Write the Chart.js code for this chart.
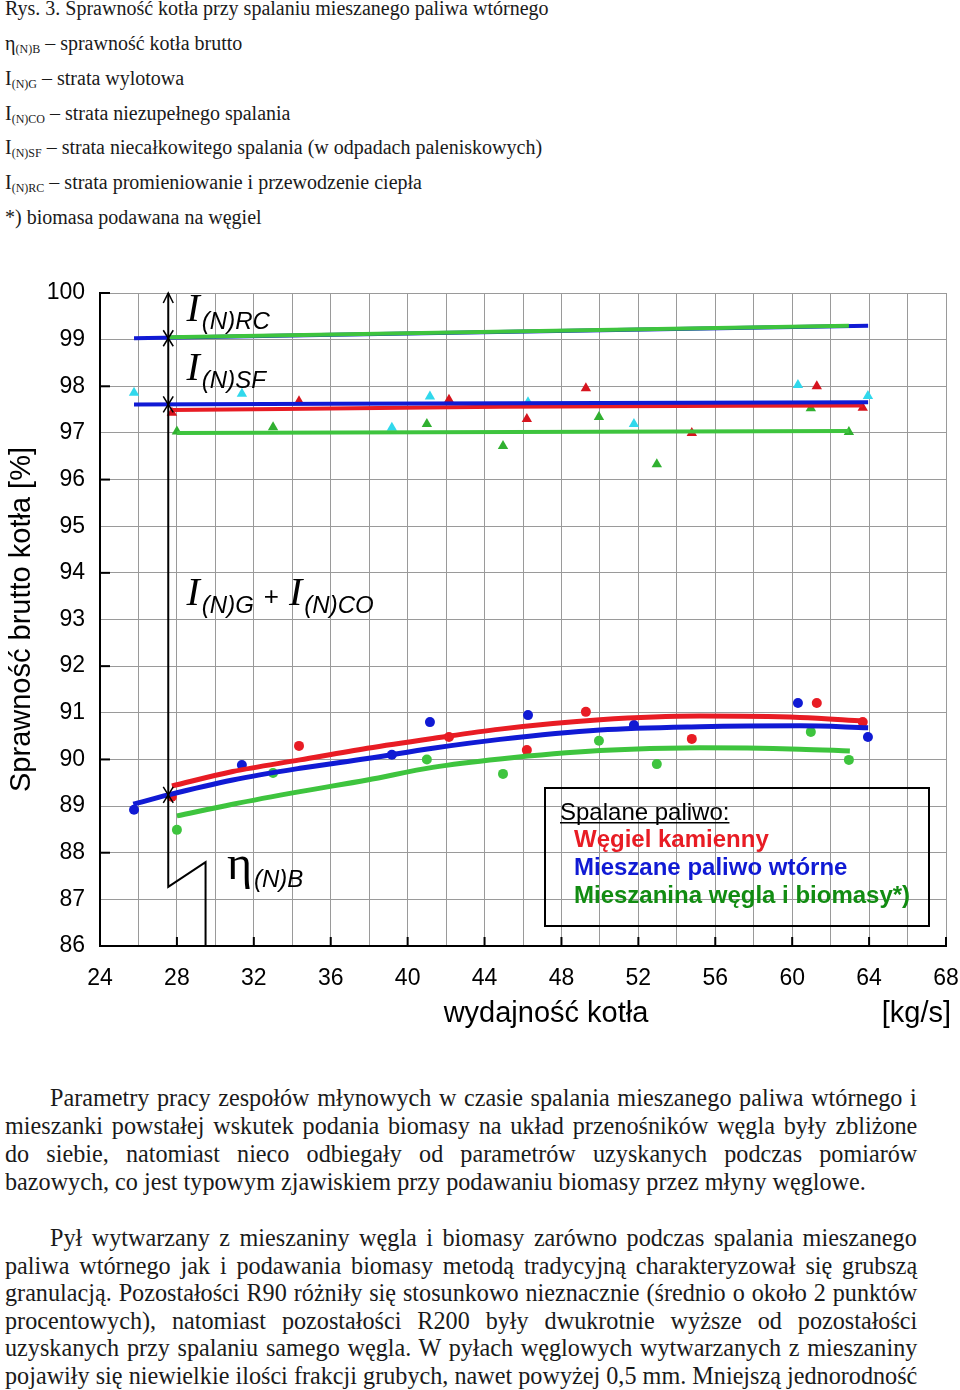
<!DOCTYPE html>
<html lang="pl">
<head>
<meta charset="utf-8">
<title>Rys. 3. Sprawność kotła</title>
<script src="https://cdn.jsdelivr.net/npm/chart.js@4.4.1/dist/chart.umd.min.js"></script>
<style>
    body { margin: 0; width: 960px; height: 1390px; position: relative; overflow: hidden; background: #fff; }
    .cap { position: absolute; left: 5px; font-family: "Liberation Serif", "Times New Roman", serif; font-size: 20px; line-height: 22px; color: #1a1a1a; white-space: nowrap; }
    .cap sub { font-size: 12px; vertical-align: -3px; line-height: 0; }
    .txt { position: absolute; font-family: "Liberation Serif", "Times New Roman", serif; font-size: 26px; line-height: 28px; color: #1a1a1a; transform-origin: 0 0; transform: scaleX(0.93); text-align: justify; text-align-last: justify; white-space: nowrap; }
    .txt.last { text-align-last: left; }
    #wrap { position: absolute; left: 0; top: 260px; width: 960px; height: 800px; }
</style>
</head>
<body>

<div class="cap" style="top:-3px">Rys. 3. Sprawność kotła przy spalaniu mieszanego paliwa wtórnego</div>
<div class="cap" style="top:32px">η<sub>(N)B</sub> – sprawność kotła brutto</div>
<div class="cap" style="top:67px">I<sub>(N)G</sub> – strata wylotowa</div>
<div class="cap" style="top:102px">I<sub>(N)CO</sub> – strata niezupełnego spalania</div>
<div class="cap" style="top:136px">I<sub>(N)SF</sub> – strata niecałkowitego spalania (w odpadach paleniskowych)</div>
<div class="cap" style="top:171px">I<sub>(N)RC</sub> – strata promieniowanie i przewodzenie ciepła</div>
<div class="cap" style="top:206px">*) biomasa podawana na węgiel</div>

<div id="wrap"><canvas id="effChart" width="960" height="800"></canvas></div>

<div class="txt" style="top:1084px; left:50px; width:932px">Parametry pracy zespołów młynowych w czasie spalania mieszanego paliwa wtórnego i</div>
<div class="txt" style="top:1112px; left:5px; width:981px">mieszanki powstałej wskutek podania biomasy na układ przenośników węgla były zbliżone</div>
<div class="txt" style="top:1140px; left:5px; width:981px">do siebie, natomiast nieco odbiegały od parametrów uzyskanych podczas pomiarów</div>
<div class="txt last" style="top:1168px; left:5px; width:981px">bazowych, co jest typowym zjawiskiem przy podawaniu biomasy przez młyny węglowe.</div>
<div class="txt" style="top:1224px; left:50px; width:932px">Pył wytwarzany z mieszaniny węgla i biomasy zarówno podczas spalania mieszanego</div>
<div class="txt" style="top:1252px; left:5px; width:981px">paliwa wtórnego jak i podawania biomasy metodą tradycyjną charakteryzował się grubszą</div>
<div class="txt" style="top:1279px; left:5px; width:981px">granulacją. Pozostałości R90 różniły się stosunkowo nieznacznie (średnio o około 2 punktów</div>
<div class="txt" style="top:1307px; left:5px; width:981px">procentowych), natomiast pozostałości R200 były dwukrotnie wyższe od pozostałości</div>
<div class="txt" style="top:1334px; left:5px; width:981px">uzyskanych przy spalaniu samego węgla. W pyłach węglowych wytwarzanych z mieszaniny</div>
<div class="txt" style="top:1362px; left:5px; width:981px">pojawiły się niewielkie ilości frakcji grubych, nawet powyżej 0,5 mm. Mniejszą jednorodność</div>

<script>
// axis ticks
const xTickLabels = [24, 28, 32, 36, 40, 44, 48, 52, 56, 60, 64, 68];
const yMajorTicks = [86, 88, 90, 92, 94, 96, 98, 100];

// Węgiel kamienny (coal)
const coalX = [27.74, 34.35, 42.15, 46.2, 49.27, 54.78, 61.28, 63.67];
const coalEff = [89.2, 90.29, 90.48, 90.2, 91.02, 90.44, 91.21, 90.8];
const coalLoss = [97.43, 97.68, 97.71, 97.3, 97.96, 97.0, 98.0, 97.54];

// Mieszane paliwo wtórne (mixed secondary fuel)
const mixX = [25.77, 31.38, 39.18, 41.16, 46.26, 51.77, 60.3, 63.94];
const mixEff = [88.92, 89.88, 90.1, 90.8, 90.95, 90.74, 91.21, 90.48];
const mixLoss = [97.86, 97.84, 97.11, 97.78, 97.66, 97.19, 98.03, 97.79];

// Mieszanina węgla i biomasy (coal + biomass)
const bioX = [28.0, 33.0, 41.0, 44.96, 49.95, 52.96, 60.97, 62.95];
const bioEff = [88.49, 89.71, 90.0, 89.69, 90.4, 89.9, 90.59, 89.99];
const bioLoss = [97.03, 97.12, 97.19, 96.72, 97.34, 96.33, 97.53, 97.02];

// trend curves of efficiency
const coalFitX = [27.74, 30.9, 34.4, 37.9, 41.3, 44.8, 50, 55.2, 60.4, 63.7];
const coalFitY = [89.43, 89.74, 89.99, 90.24, 90.45, 90.65, 90.85, 90.93, 90.9, 90.82];
const mixFitX = [25.73, 27.55, 30.9, 34.4, 37.9, 41.3, 44.8, 50, 55.2, 60.4, 63.95];
const mixFitY = [89.04, 89.24, 89.56, 89.81, 90.02, 90.24, 90.43, 90.63, 90.7, 90.72, 90.68];
const bioFitX = [28, 30.9, 34.4, 37.9, 41.3, 44.8, 50, 55.2, 60.4, 63];
const bioFitY = [88.79, 89.04, 89.31, 89.56, 89.83, 90.01, 90.19, 90.25, 90.22, 90.18];

// upper loss lines: I(N)RC and I(N)SF
const rcMixX = [25.77, 63.95];
const rcMixY = [99.03, 99.3];
const rcBioX = [27.55, 62.95];
const rcBioY = [99.05, 99.3];
const sfMixX = [25.77, 63.95];
const sfMixY = [97.61, 97.66];
const sfCoalX = [27.74, 44.8, 63.67];
const sfCoalY = [97.49, 97.56, 97.59];
const sfBioX = [28, 62.95];
const sfBioY = [97.0, 97.04];

// marker line of the loss breakdown
const markX = 27.55;
const markBreakX = 29.49;
const markBreakY = [87.27, 87.8];
const markArrowY = [99.03, 97.61, 89.24];

const RED = 'rgb(232, 28, 36)';
const BLUE = 'rgb(16, 26, 212)';
const GREEN = 'rgb(62, 196, 62)';
const CYAN = 'rgb(48, 216, 236)';
const GREEN_TRI = 'rgb(48, 176, 48)';
const FONT = '"Liberation Sans", Arial, sans-serif';

function pts(xs, ys) {
    return xs.map((x, i) => ({ x: x, y: ys[i] }));
}

function lineSet(xs, ys, color, width, order) {
    return {
        data: pts(xs, ys),
        showLine: true,
        borderColor: color,
        borderWidth: width,
        pointRadius: 0,
        tension: 0.4,
        cubicInterpolationMode: 'monotone',
        borderCapStyle: 'butt',
        order: order
    };
}

function pointSet(xs, ys, color, style, radius) {
    return {
        data: pts(xs, ys),
        showLine: false,
        pointStyle: style,
        pointRadius: radius,
        backgroundColor: color,
        borderColor: color,
        borderWidth: 0,
        order: 10
    };
}

/**
 * Annotations: marker line, arrows, loss labels, legend box, x title
 */
const decorPlugin = {
    id: 'decor',
    afterDraw(chart) {
        const ctx = chart.ctx;
        const xs = chart.scales.x;
        const ys = chart.scales.y;
        const px = v => xs.getPixelForValue(v);
        const py = v => ys.getPixelForValue(v);

        ctx.save();
        ctx.strokeStyle = '#000';
        ctx.lineWidth = 2;

        // inner tick marks
        xTickLabels.forEach(v => {
            ctx.beginPath();
            ctx.moveTo(px(v), ys.bottom);
            ctx.lineTo(px(v), ys.bottom - 9);
            ctx.stroke();
        });
        yMajorTicks.forEach(v => {
            ctx.beginPath();
            ctx.moveTo(xs.left, py(v));
            ctx.lineTo(xs.left + 10, py(v));
            ctx.stroke();
        });

        // marker line with break
        const mx = px(markX);
        ctx.beginPath();
        ctx.moveTo(mx, py(100));
        ctx.lineTo(mx, py(markBreakY[0]));
        ctx.lineTo(px(markBreakX), py(markBreakY[1]));
        ctx.lineTo(px(markBreakX), ys.bottom);
        ctx.stroke();

        ctx.lineWidth = 1.5;
        ctx.beginPath();
        ctx.moveTo(mx - 5, py(100) + 10);
        ctx.lineTo(mx, py(100));
        ctx.lineTo(mx + 5, py(100) + 10);
        ctx.stroke();
        markArrowY.forEach(v => {
            const yy = py(v);
            ctx.beginPath();
            ctx.moveTo(mx - 5, yy - 8);
            ctx.lineTo(mx, yy);
            ctx.lineTo(mx + 5, yy - 8);
            ctx.moveTo(mx - 5, yy + 8);
            ctx.lineTo(mx, yy);
            ctx.lineTo(mx + 5, yy + 8);
            ctx.stroke();
        });

        // loss labels
        ctx.fillStyle = '#000';
        ctx.textBaseline = 'alphabetic';
        ctx.textAlign = 'left';
        const bigI = 'italic 40px "Liberation Serif", serif';
        const sub = 'italic 24px ' + FONT;
        function lossLabel(x, y, parts) {
            let cx = x;
            parts.forEach(p => {
                ctx.font = p.font;
                ctx.fillText(p.text, cx, y + (p.dy || 0));
                cx += ctx.measureText(p.text).width + (p.gap || 0);
            });
        }
        lossLabel(px(28.5), py(99.4), [
            { text: 'I', font: bigI, gap: 2 },
            { text: '(N)RC', font: sub, dy: 8 }
        ]);
        lossLabel(px(28.5), py(98.13), [
            { text: 'I', font: bigI, gap: 2 },
            { text: '(N)SF', font: sub, dy: 8 }
        ]);
        lossLabel(px(28.5), py(93.31), [
            { text: 'I', font: bigI, gap: 2 },
            { text: '(N)G', font: sub, dy: 8, gap: 10 },
            { text: '+', font: '26px ' + FONT, gap: 10 },
            { text: 'I', font: bigI, gap: 2 },
            { text: '(N)CO', font: sub, dy: 8 }
        ]);
        lossLabel(px(30.6), py(87.44), [
            { text: 'η', font: '48px "Liberation Serif", serif', gap: 2 },
            { text: '(N)B', font: sub, dy: 8 }
        ]);

        // legend box
        ctx.lineWidth = 2;
        ctx.strokeRect(545, 528, 384, 138);
        ctx.font = '24px ' + FONT;
        ctx.fillText('Spalane paliwo:', 560, 560);
        ctx.fillRect(560, 562, ctx.measureText('Spalane paliwo:').width, 1.5);
        ctx.font = 'bold 24px ' + FONT;
        ctx.fillStyle = RED;
        ctx.fillText('Węgiel kamienny', 574, 587);
        ctx.fillStyle = BLUE;
        ctx.fillText('Mieszane paliwo wtórne', 574, 615);
        ctx.fillStyle = 'rgb(18, 140, 18)';
        ctx.fillText('Mieszanina węgla i biomasy*)', 574, 643);

        // x axis title
        ctx.fillStyle = '#000';
        ctx.font = '29px ' + FONT;
        ctx.textAlign = 'center';
        ctx.fillText('wydajność kotła', 546, 762);
        ctx.textAlign = 'right';
        ctx.fillText('[kg/s]', 951, 762);
        ctx.restore();
    }
};

function loadEfficiencyChart() {
    const ctx = document.getElementById('effChart');

    new Chart(ctx, {
        type: 'scatter',
        data: {
            datasets: [
                lineSet(rcBioX, rcBioY, GREEN, 4, 1),
                lineSet(sfBioX, sfBioY, GREEN, 4, 1),
                lineSet(bioFitX, bioFitY, GREEN, 5, 1),
                lineSet(rcMixX, rcMixY, BLUE, 4, 2),
                lineSet(sfMixX, sfMixY, BLUE, 4, 2),
                lineSet(mixFitX, mixFitY, BLUE, 5, 2),
                lineSet(sfCoalX, sfCoalY, RED, 4, 3),
                lineSet(coalFitX, coalFitY, RED, 5, 3),
                pointSet(coalX, coalEff, RED, 'circle', 5),
                pointSet(mixX, mixEff, BLUE, 'circle', 5),
                pointSet(bioX, bioEff, GREEN, 'circle', 5),
                pointSet(coalX, coalLoss, 'rgb(214, 20, 30)', 'triangle', 6),
                pointSet(mixX, mixLoss, CYAN, 'triangle', 6),
                pointSet(bioX, bioLoss, GREEN_TRI, 'triangle', 6)
            ]
        },
        options: {
            responsive: false,
            animation: false,
            layout: {
                padding: { left: 0, right: 14, top: 33, bottom: 0 }
            },
            plugins: {
                legend: { display: false },
                tooltip: { enabled: false }
            },
            scales: {
                x: {
                    type: 'linear',
                    min: 24,
                    max: 68,
                    afterFit: s => {
                        s.height = 114;
                        s.paddingLeft = 0;
                        s.paddingRight = 0;
                    },
                    ticks: {
                        stepSize: 2,
                        autoSkip: false,
                        maxRotation: 0,
                        padding: 19,
                        color: '#000',
                        font: { family: FONT, size: 23 },
                        callback: v => xTickLabels.includes(v) ? String(v) : ''
                    },
                    grid: {
                        color: '#9a9a9a',
                        lineWidth: 1,
                        drawTicks: false
                    },
                    border: { color: '#000', width: 2 }
                },
                y: {
                    min: 86,
                    max: 100,
                    afterFit: s => {
                        s.width = 100;
                        s.paddingTop = 0;
                        s.paddingBottom = 0;
                    },
                    ticks: {
                        stepSize: 1,
                        padding: 15,
                        color: '#000',
                        font: { family: FONT, size: 23 }
                    },
                    grid: {
                        color: '#9a9a9a',
                        lineWidth: 1,
                        drawTicks: false
                    },
                    border: { color: '#000', width: 2 },
                    title: {
                        display: true,
                        text: 'Sprawność brutto kotła [%]',
                        color: '#000',
                        font: { family: FONT, size: 29 },
                        padding: { top: 5, bottom: 0 }
                    }
                }
            }
        },
        plugins: [decorPlugin]
    });
}

loadEfficiencyChart();
</script>
</body>
</html>
